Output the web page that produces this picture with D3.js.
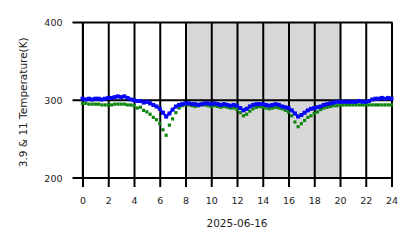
<!DOCTYPE html>
<html>
<head>
<meta charset="utf-8">
<script src="https://cdn.jsdelivr.net/npm/d3@7"></script>
<style>
  body { margin: 0; background: #fff; }
  text { font-family: "DejaVu Sans", sans-serif; fill: #222; }
</style>
</head>
<body>
<div id="canvas"></div>
<script>
"use strict";

// samples every 15 minutes over the day, 00:00 to 24:00
let sampleStep = 0.25;

// 11 um brightness temperature (K), blue
let temp11 = [
    302, 301, 302, 301, 302, 302, 301, 302, 303,
    303, 304, 305, 304, 305, 303, 301, 300,
    299, 299, 297, 298, 296, 294, 292, 289,
    284, 279, 283, 288, 292, 294, 295, 296,
    296, 295, 295, 294, 295, 296, 296, 295,
    296, 295, 294, 295, 294, 293, 294, 293,
    290, 287, 289, 292, 294, 295, 295, 295,
    294, 293, 294, 295, 294, 292, 291, 290,
    287, 283, 279, 281, 284, 287, 289, 290,
    291, 292, 294, 295, 296, 297, 298, 298,
    298, 298, 298, 298, 298, 299, 298, 298,
    299, 301, 302, 302, 303, 302, 303, 302
];

// 3.9 um brightness temperature (K), green
let temp39 = [
    296, 296, 295, 295, 295, 295, 294, 294, 294,
    294, 295, 295, 295, 295, 294, 294, 293,
    290, 291, 287, 285, 282, 278, 275, 270,
    262, 255, 268, 276, 284, 290, 293, 294,
    294, 293, 292, 293, 294, 294, 293, 292,
    293, 292, 291, 292, 291, 290, 290, 288,
    284, 280, 282, 286, 289, 291, 292, 291,
    290, 289, 290, 291, 290, 289, 287, 285,
    280, 272, 266, 270, 274, 278, 280, 283,
    285, 288, 290, 291, 292, 293, 293, 294,
    294, 294, 294, 294, 294, 294, 294, 294,
    294, 294, 294, 294, 294, 294, 294, 294
];

let xTicks = [0, 2, 4, 6, 8, 10, 12, 14, 16, 18, 20, 22, 24];
let yTicks = [200, 300, 400];
let nightShade = [8, 20];   // shaded hours
let dateLabel = "2025-06-16";
let yLabel = "3.9 & 11 Temperature(K)";

let svgWidth = 418;
let svgHeight = 248;
let plot = { left: 82.5, right: 391.5, top: 22.5, bottom: 178 };
let tickLen = 9;

let svg = d3.select("#canvas").append("svg")
    .attr("width", svgWidth)
    .attr("height", svgHeight);

let xScale = d3.scaleLinear().domain([0, 24]).range([plot.left, plot.right]);
let yScale = d3.scaleLinear().domain([200, 400]).range([plot.bottom, plot.top]);

// shaded block
svg.append("rect")
    .attr("x", xScale(nightShade[0]))
    .attr("y", plot.top)
    .attr("width", xScale(nightShade[1]) - xScale(nightShade[0]))
    .attr("height", plot.bottom - plot.top)
    .attr("fill", "#d7d7d7");

// faint frame
svg.append("rect")
    .attr("x", plot.left - 1)
    .attr("y", plot.top)
    .attr("width", plot.right - plot.left + 2)
    .attr("height", plot.bottom - plot.top)
    .attr("fill", "none")
    .attr("stroke", "#cfcfcf")
    .attr("stroke-width", 1);

// grid lines + ticks (drawn long so the tick is part of the grid line)
let xAxis = d3.axisBottom(xScale)
    .tickValues(xTicks)
    .tickSize(plot.bottom - plot.top + tickLen)
    .tickPadding(10)
    .tickFormat(d3.format("d"));

let gx = svg.append("g")
    .attr("transform", "translate(0," + plot.top + ")")
    .call(xAxis);
gx.select(".domain").remove();
gx.selectAll("line").attr("stroke", "#000").attr("stroke-width", 2);
gx.selectAll("text")
    .style("font-family", "DejaVu Sans, sans-serif")
    .style("font-size", "9.5px")
    .attr("fill", "#222");

let yAxis = d3.axisLeft(yScale)
    .tickValues(yTicks)
    .tickSize(0)
    .tickPadding(10)
    .tickFormat(d3.format("d"));

let gy = svg.append("g")
    .attr("transform", "translate(" + (plot.left - tickLen - 1) + ",0)")
    .call(yAxis);
gy.select(".domain").remove();
gy.selectAll("text")
    .style("font-family", "DejaVu Sans, sans-serif")
    .style("font-size", "9.5px")
    .attr("fill", "#222");

svg.append("g").selectAll("line")
    .data(yTicks)
    .join("line")
    .attr("x1", plot.left - tickLen - 1)
    .attr("x2", plot.right + 1)
    .attr("y1", function(d) { return yScale(d); })
    .attr("y2", function(d) { return yScale(d); })
    .attr("stroke", "#000")
    .attr("stroke-width", 2);

// data
function toPoints(values) {
    return values.map(function(v, i) { return { h: i * sampleStep, t: v }; });
}

let green = toPoints(temp39);
let blue = toPoints(temp11);

svg.append("g").selectAll("rect")
    .data(green)
    .join("rect")
    .attr("x", function(d) { return xScale(d.h) - 1.6; })
    .attr("y", function(d) { return yScale(d.t) - 1.6; })
    .attr("width", 3.2)
    .attr("height", 3.2)
    .attr("fill", "#108510");

let line = d3.line()
    .x(function(d) { return xScale(d.h); })
    .y(function(d) { return yScale(d.t); });

svg.append("path")
    .datum(blue)
    .attr("d", line)
    .attr("fill", "none")
    .attr("stroke", "#0808f8")
    .attr("stroke-width", 2.5);

svg.append("g").selectAll("rect")
    .data(blue)
    .join("rect")
    .attr("x", function(d) { return xScale(d.h) - 2; })
    .attr("y", function(d) { return yScale(d.t) - 2; })
    .attr("width", 4)
    .attr("height", 4)
    .attr("fill", "#0808f8");

// labels
svg.append("text")
    .attr("x", (plot.left + plot.right) / 2)
    .attr("y", 227)
    .attr("text-anchor", "middle")
    .style("font-size", "10.5px")
    .text(dateLabel);

svg.append("text")
    .attr("transform", "translate(27," + ((plot.top + plot.bottom) / 2 + 2) + ") rotate(-90)")
    .attr("text-anchor", "middle")
    .style("font-size", "10.5px")
    .text(yLabel);
</script>
</body>
</html>
